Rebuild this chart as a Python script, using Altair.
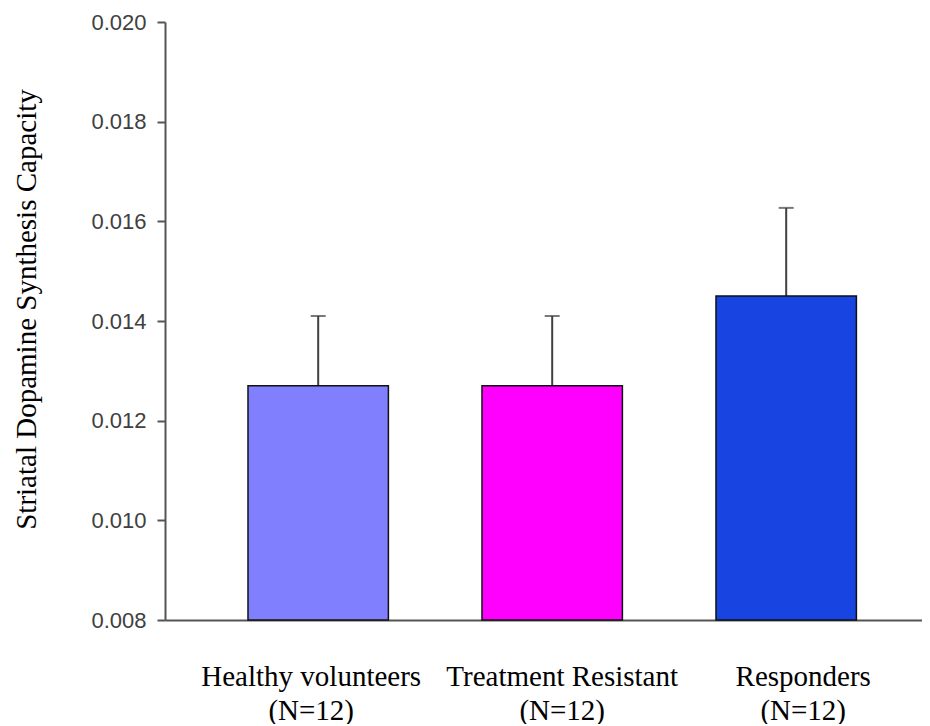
import altair as alt
import pandas as pd

groups = ["Healthy volunteers", "Treatment Resistant", "Responders"]
sizes = ["(N=12)", "(N=12)", "(N=12)"]
means = [0.0127, 0.0127, 0.0145]
upper = [0.0141, 0.0141, 0.01627]
colors = ["#8080FF", "#FF00FF", "#1844E2"]
baseline = 0.008
y_ticks = [0.008, 0.010, 0.012, 0.014, 0.016, 0.018, 0.020]

labels = [g + "|" + s for g, s in zip(groups, sizes)]
df = pd.DataFrame({
    "label": labels,
    "mean": means,
    "upper": upper,
    "base": [baseline] * len(groups),
})

label_offset = {
    "condition": [
        {"test": "datum.value == '%s'" % labels[0], "value": -7},
        {"test": "datum.value == '%s'" % labels[1], "value": 10},
    ],
    "value": 17,
}

x_enc = alt.X(
    "label:N",
    sort=labels,
    scale=alt.Scale(paddingInner=0.4, paddingOuter=0.3175, align=0.5585),
    axis=alt.Axis(
        title=None,
        labelExpr="split(datum.label, '|')",
        labelFont="Liberation Serif",
        labelFontSize=29,
        labelColor="#000000",
        labelLineHeight=34,
        labelAngle=0,
        labelPadding=42,
        labelLimit=0,
        labelOffset=label_offset,
        ticks=False,
        tickSize=0,
        domainColor="#555555",
        domainWidth=2,
        grid=False,
    ),
)

y_scale = alt.Scale(domain=[0.008, 0.020], zero=False, nice=False)
y_axis = alt.Axis(
    title="Striatal Dopamine Synthesis Capacity",
    titleFont="Liberation Serif",
    titleFontSize=29,
    titleFontWeight="normal",
    titleColor="#000000",
    titleAngle=270,
    titleBaseline="middle",
    titleAlign="center",
    titleX=-139,
    titleY=287,
    values=y_ticks,
    format=".3f",
    labelFont="Liberation Sans",
    labelFontSize=22,
    labelColor="#404040",
    labelPadding=11,
    tickSize=8,
    tickWidth=2,
    tickColor="#555555",
    domainColor="#555555",
    domainWidth=2,
    grid=False,
)

base = alt.Chart(df)

err = base.mark_rule(color="#404040", strokeWidth=2).encode(
    x=x_enc,
    y=alt.Y("mean:Q", scale=y_scale, axis=y_axis),
    y2="upper:Q",
)

cap = base.mark_tick(orient="horizontal", size=15, thickness=2, color="#404040").encode(
    x=x_enc,
    y=alt.Y("upper:Q", scale=y_scale),
)

bars = base.mark_bar(stroke="#111111", strokeWidth=1.5).encode(
    x=x_enc,
    y=alt.Y("mean:Q", scale=y_scale, axis=y_axis),
    y2="base:Q",
    color=alt.Color("label:N", scale=alt.Scale(domain=labels, range=colors), legend=None),
)

chart = alt.layer(err, cap, bars).properties(
    width=757,
    height=598,
    autosize=alt.AutoSizeParams(type="none"),
    padding={"left": 157, "top": 14, "right": 0, "bottom": 104},
).configure(
    background="#ffffff",
    view=alt.ViewConfig(stroke="transparent", strokeWidth=0),
)

chart.save("out.html", embed_options={"renderer": "svg", "actions": False})
